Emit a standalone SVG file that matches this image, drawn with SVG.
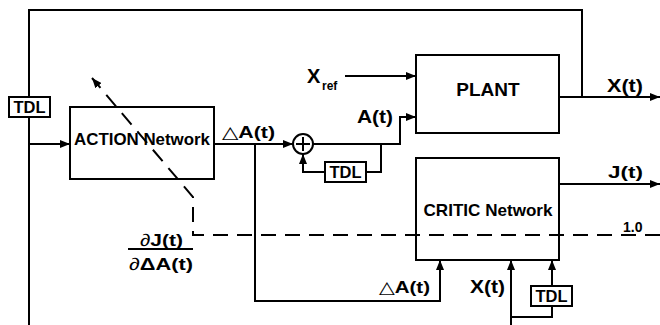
<svg xmlns="http://www.w3.org/2000/svg" width="660" height="325" viewBox="0 0 660 325">
<style>
.ln{fill:none;stroke:#000;stroke-width:2}
.bx{fill:none;stroke:#000;stroke-width:2}
.tb{fill:#fff;stroke:#000;stroke-width:2}
.dash{fill:none;stroke:#000;stroke-width:2;stroke-dasharray:15 9}
text{font-family:"Liberation Sans",Arial,sans-serif;font-weight:bold;fill:#000}
.n{font-weight:normal}
.tdl{font-size:16px}
</style>
<defs>
<marker id="ah" markerUnits="userSpaceOnUse" markerWidth="10" markerHeight="8" refX="10" refY="4" orient="auto">
<path d="M0,0 L10,4 L0,8 z" fill="#000"/>
</marker>
</defs>
<rect width="660" height="325" fill="#fff"/>
<g id="connectors">
<path class="ln" d="M582,97 V10 H29 V325"/>
<path class="ln" d="M29,144 H70" marker-end="url(#ah)"/>
<path class="ln" d="M214,144 H293" marker-end="url(#ah)"/>
<path class="ln" d="M255,144 V301 H440 V260" marker-end="url(#ah)"/>
<path class="ln" d="M313,144 H400 V117 H416" marker-end="url(#ah)"/>
<path class="ln" d="M381,144 V172 H366"/>
<path class="ln" d="M325,172 H303 V154" marker-end="url(#ah)"/>
<path class="ln" d="M345,76 H416" marker-end="url(#ah)"/>
<path class="ln" d="M559,97 H660" marker-end="url(#ah)"/>
<path class="ln" d="M559,184 H660" marker-end="url(#ah)"/>
<path class="ln" d="M511,325 V260" marker-end="url(#ah)"/>
<path class="ln" d="M511,317 H552 V306"/>
<path class="ln" d="M552,286 V260" marker-end="url(#ah)"/>
<path class="dash" d="M660,235 H193 V197 L92,78" marker-end="url(#ah)"/>
</g>
<g id="action">
<rect class="bx" x="70" y="107" width="144" height="72"/>
<text x="74" y="145" font-size="16" textLength="136" lengthAdjust="spacingAndGlyphs">ACTION Network</text>
</g>
<g id="plant">
<rect class="bx" x="416" y="55" width="143" height="78"/>
<text x="488" y="96" font-size="19" text-anchor="middle">PLANT</text>
</g>
<g id="critic">
<rect class="bx" x="416" y="158" width="143" height="102"/>
<text x="488" y="216" font-size="17" text-anchor="middle" textLength="129" lengthAdjust="spacingAndGlyphs">CRITIC Network</text>
</g>
<g id="sum">
<circle cx="303" cy="144" r="10" fill="#fff" stroke="#000" stroke-width="2"/>
<path class="ln" d="M296,144 H310 M303,137 V151"/>
</g>
<g id="tdl1">
<rect class="tb" x="9" y="97" width="41" height="20"/>
<text class="tdl" x="29.5" y="113" text-anchor="middle" textLength="32" lengthAdjust="spacingAndGlyphs">TDL</text>
</g>
<g id="tdl2">
<rect class="tb" x="325" y="162" width="41" height="20"/>
<text class="tdl" x="345.5" y="178" text-anchor="middle" textLength="32" lengthAdjust="spacingAndGlyphs">TDL</text>
</g>
<g id="tdl3">
<rect class="tb" x="531" y="286" width="41" height="20"/>
<text class="tdl" x="551.5" y="302" text-anchor="middle" textLength="32" lengthAdjust="spacingAndGlyphs">TDL</text>
</g>
<g id="labels">
<text x="222" y="138" font-size="17" textLength="53" lengthAdjust="spacingAndGlyphs"><tspan class="n">△</tspan>A(t)</text>
<text x="307" y="83" font-size="20">X</text>
<text x="322" y="90" font-size="12">ref</text>
<text x="357" y="123" font-size="18" textLength="36" lengthAdjust="spacingAndGlyphs">A(t)</text>
<text x="607" y="92" font-size="18" textLength="36" lengthAdjust="spacingAndGlyphs">X(t)</text>
<text x="608" y="178" font-size="17" textLength="35" lengthAdjust="spacingAndGlyphs">J(t)</text>
<text x="623" y="232" font-size="14">1.0</text>
<text x="379" y="293" font-size="17" textLength="51" lengthAdjust="spacingAndGlyphs"><tspan class="n">△</tspan>A(t)</text>
<text x="470" y="293" font-size="18" textLength="35" lengthAdjust="spacingAndGlyphs">X(t)</text>
<text x="140" y="246" font-size="17" textLength="43" lengthAdjust="spacingAndGlyphs"><tspan class="n">∂</tspan>J(t)</text>
<line class="ln" x1="128" y1="249" x2="193" y2="249"/>
<text x="129" y="270" font-size="17" textLength="64" lengthAdjust="spacingAndGlyphs"><tspan class="n">∂</tspan>ΔA(t)</text>
</g>
</svg>
